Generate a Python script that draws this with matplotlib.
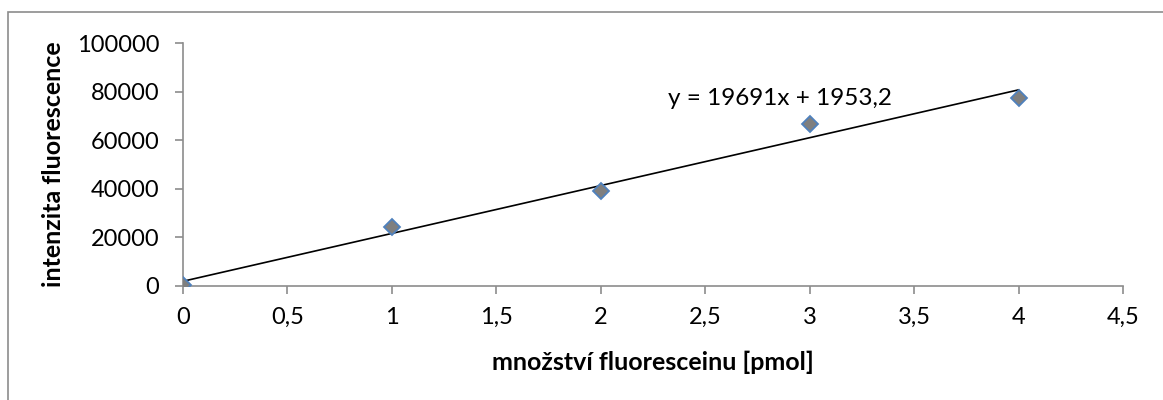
import numpy as np
import matplotlib.pyplot as plt
from matplotlib.patches import Rectangle
from matplotlib.ticker import FuncFormatter

# kalibrace fluoresceinu
mnozstvi = [0, 1, 2, 3, 4]                      # pmol
intenzita = [300, 24200, 38900, 66500, 77500]   # intenzita fluorescence
smernice = 19691
posun = 1953.2

plt.rcParams['font.family'] = ['Lato', 'DejaVu Sans']

fig = plt.figure(figsize=(11.63, 4.0), dpi=100)
ax = fig.add_axes([0.1574, 0.285, 0.8082, 0.6075])

# rámeček grafu
fig.patches.append(Rectangle((8 / 1163, -0.1), 1.2, 1.1 - 12 / 400,
                             transform=fig.transFigure, fill=False,
                             edgecolor='#8c8c8c', linewidth=1.2))

ax.plot(mnozstvi, intenzita, linestyle='none', marker='D', markersize=8.5,
        markerfacecolor='#7f7f7f', markeredgecolor='#4f81bd',
        markeredgewidth=1.3, zorder=3)

# lineární regrese
xr = np.array([mnozstvi[0], mnozstvi[-1]])
ax.plot(xr, smernice * xr + posun, color='black', linewidth=1.2, zorder=2)
ax.text(2.32, 77300, 'y = 19691x + 1953,2', fontsize=17.5, va='center', ha='left')

ax.set_xlim(0, 4.5)
ax.set_ylim(0, 100000)
ax.set_xticks(np.arange(0, 4.51, 0.5))
ax.set_yticks(np.arange(0, 100001, 20000))
ax.xaxis.set_major_formatter(FuncFormatter(lambda v, p: f'{v:g}'.replace('.', ',')))
ax.yaxis.set_major_formatter(FuncFormatter(lambda v, p: f'{int(v)}'))

for s in ['top', 'right']:
    ax.spines[s].set_visible(False)
for s in ['left', 'bottom']:
    ax.spines[s].set_color('#8c8c8c')
    ax.spines[s].set_linewidth(1.2)
ax.tick_params(direction='out', length=6, width=1.2, color='#8c8c8c',
               labelsize=17, pad=11)
ax.tick_params(axis='x', pad=9)

ax.set_xlabel('množství fluoresceinu [pmol]', fontsize=18, fontweight='bold', va='center')
ax.set_ylabel('intenzita fluorescence', fontsize=18, fontweight='bold', va='center')
ax.xaxis.set_label_coords(0.5, -0.313)
ax.yaxis.set_label_coords(-0.138, 0.5)

fig.savefig('out.png', dpi=100)
